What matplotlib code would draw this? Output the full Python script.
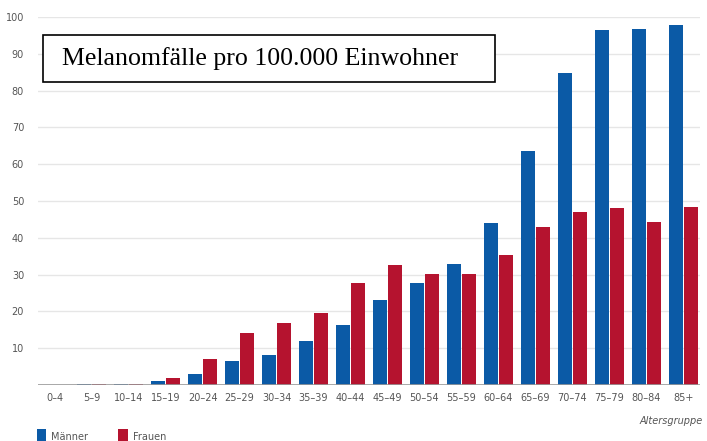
import matplotlib
matplotlib.use("Agg")
import matplotlib.pyplot as plt
import numpy as np
from matplotlib.patches import Rectangle

categories = ["0–4", "5–9", "10–14", "15–19", "20–24", "25–29", "30–34", "35–39",
              "40–44", "45–49", "50–54", "55–59", "60–64", "65–69", "70–74",
              "75–79", "80–84", "85+"]
maenner = [0.1, 0.3, 0.3, 1.2, 3.0, 6.6, 8.1, 11.9, 16.2, 23.0, 27.6, 33.0,
           44.0, 63.5, 84.8, 96.5, 96.7, 97.8]
frauen = [0.1, 0.2, 0.2, 2.0, 7.1, 14.2, 16.9, 19.7, 27.6, 32.5, 30.1, 30.1,
          35.4, 43.0, 47.1, 48.2, 44.4, 48.5]
yticks = [10, 20, 30, 40, 50, 60, 70, 80, 90, 100]

blue = "#0b5aa6"
red = "#b5132f"

W, H = 707, 441
fig = plt.figure(figsize=(W / 100, H / 100), dpi=100)
ax = fig.add_axes([38 / W, (H - 385) / H, (700 - 38) / W, (385 - 17) / H])

x = np.arange(len(categories))
bw = 0.38
ax.bar(x - bw / 2 - 0.01, maenner, width=bw, color=blue, label="Männer", zorder=3)
ax.bar(x + bw / 2 + 0.01, frauen, width=bw, color=red, label="Frauen", zorder=3)

ax.set_xlim(-0.45, 17.45)
ax.set_ylim(0, 100)
ax.set_yticks(yticks)
ax.set_yticklabels([str(v) for v in yticks], fontsize=7, color="#555555")
ax.set_xticks(x)
ax.set_xticklabels(categories, fontsize=7, color="#555555")
ax.tick_params(axis="both", length=0)
ax.tick_params(axis="y", pad=10)
ax.tick_params(axis="x", pad=6)
for s in ax.spines.values():
    s.set_visible(False)
ax.grid(axis="y", color="#e6e6e6", linewidth=1.0, zorder=0)
ax.axhline(0, color="#999999", linewidth=1.2, zorder=4)

# Title box
fig.patches.append(Rectangle((43 / W, (H - 82) / H), (495 - 43) / W, (82 - 35) / H,
                             transform=fig.transFigure, facecolor="white",
                             edgecolor="black", linewidth=1.2, zorder=5))
fig.text(62 / W, (H - 59) / H, "Melanomfälle pro 100.000 Einwohner",
         family="Liberation Serif", fontsize=18.6, va="center", ha="left",
         color="black", zorder=6)

fig.text(703 / W, (H - 421) / H, "Altersgruppe", fontsize=7, style="italic",
         color="#555555", ha="right", va="center")

leg = fig.legend(loc="lower left", bbox_to_anchor=(28 / W, -12 / H), ncol=2,
                 frameon=False, fontsize=7, handlelength=1.0, handleheight=2.0,
                 handletextpad=0.5, columnspacing=3.1, labelcolor="#555555")

fig.savefig("out.png", dpi=100, facecolor="white")
